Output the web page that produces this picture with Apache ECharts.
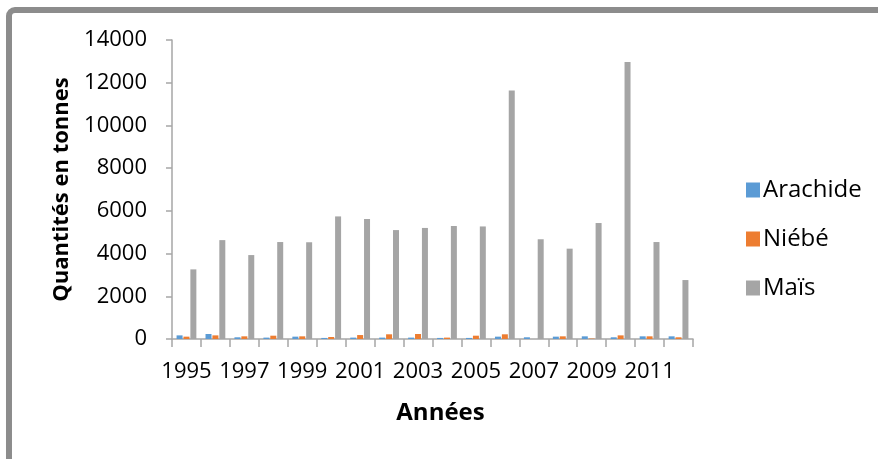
<!DOCTYPE html>
<html><head><meta charset="utf-8">
<script src="https://cdn.jsdelivr.net/npm/echarts@6/dist/echarts.min.js"></script>
<style>html,body{margin:0;padding:0;background:#fff}#c{width:878px;height:459px}</style>
</head><body><div id="c"></div>
<script>
const years = ['1995','1996','1997','1998','1999','2000','2001','2002','2003','2004','2005','2006','2007','2008','2009','2010','2011','2012'];
const arachide = [170,235,80,65,110,50,65,65,65,50,50,110,80,110,125,80,125,125];
const niebe = [110,170,125,155,125,95,185,220,235,65,155,220,0,125,20,170,125,80];
const mais = [3260,4630,3930,4540,4530,5740,5620,5100,5200,5290,5270,11630,4670,4230,5430,12970,4540,2760];
const yTicks = [0,2000,4000,6000,8000,10000,12000,14000];

const FONT = 'Open Sans';
const chart = echarts.init(document.getElementById('c'), null, {renderer:'canvas'});
chart.setOption({
  animation:false,
  backgroundColor:'#fff',
  color:['#5B9BD5','#ED7D31','#A5A5A5'],
  graphic:[{type:'rect',shape:{x:9,y:10,width:900,height:520,r:6},style:{fill:'none',stroke:'#8c8c8c',lineWidth:6},silent:true}],
  grid:{left:172,right:185,top:40,bottom:120},
  legend:{orient:'vertical',left:741,top:172,itemWidth:14,itemHeight:15,itemGap:23,icon:'rect',
    textStyle:{fontFamily:FONT,fontSize:24,color:'#000',lineHeight:26,padding:[0,0,0,-2]},
    data:['Arachide','Niébé','Maïs']},
  xAxis:{type:'category',data:years,
    name:'Années',nameLocation:'middle',nameGap:62,
    nameTextStyle:{fontFamily:FONT,fontSize:24,fontWeight:'bold',color:'#000',padding:[0,0,0,16]},
    axisLine:{lineStyle:{color:'#a6a6a6',width:1.5}},
    axisTick:{show:true,interval:0,length:8,lineStyle:{color:'#a6a6a6',width:1.5}},
    axisLabel:{interval:1,margin:22,fontFamily:FONT,fontSize:22,color:'#000'}},
  yAxis:{type:'value',min:0,max:14000,interval:2000,
    name:'Quantités en tonnes',nameLocation:'middle',nameGap:98,nameRotate:90,
    nameTextStyle:{fontFamily:FONT,fontSize:22,fontWeight:'bold',color:'#000'},
    axisLine:{show:true,lineStyle:{color:'#a6a6a6',width:1.5}},
    axisTick:{show:true,inside:false,length:6,lineStyle:{color:'#a6a6a6',width:1.5}},
    splitLine:{show:false},
    axisLabel:{margin:25,fontFamily:FONT,fontSize:22,color:'#000',
      formatter:v=>yTicks.includes(v)?String(v):''}},
  series:[
    {name:'Arachide',type:'bar',data:arachide,barWidth:6,barGap:'15%'},
    {name:'Niébé',type:'bar',data:niebe,barWidth:6,barGap:'15%'},
    {name:'Maïs',type:'bar',data:mais,barWidth:6,barGap:'15%'}
  ]
});
</script></body></html>
